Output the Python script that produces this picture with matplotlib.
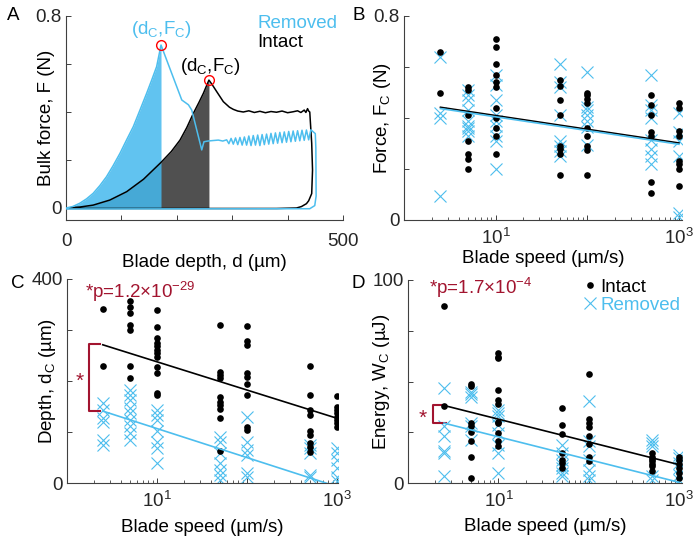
import numpy as np
import matplotlib
matplotlib.use('Agg')
import matplotlib.pyplot as plt
from matplotlib.ticker import LogLocator, NullFormatter

plt.rcParams['font.family'] = ['Liberation Sans', 'DejaVu Sans']
plt.rcParams['mathtext.fontset'] = 'custom'
plt.rcParams['mathtext.rm'] = 'Liberation Sans'
plt.rcParams['mathtext.it'] = 'Liberation Sans:italic'
plt.rcParams['mathtext.default'] = 'regular'
plt.rcParams['font.size'] = 13.5

BLUE = '#4DBEEE'
RED = '#A2142F'
AX = '#404040'

# ---- panel A: force vs depth curves ----
blue_load_d = [0, 12, 25, 37, 49, 61, 73, 85, 97.5, 109, 121.5, 133, 145.6, 155, 163.6, 171.5]
blue_load_F = [0, 0.006, 0.02, 0.038, 0.061, 0.093, 0.13, 0.176, 0.228, 0.282, 0.339, 0.405,
               0.478, 0.535, 0.589, 0.679]
blue_rest_d = [171.5, 209, 221, 227, 242, 245, 249, 256, 265, 275, 283, 290,
               294, 298, 302, 306, 310, 314, 318, 322, 326, 330, 334, 338, 342, 346,
               350, 354, 358, 362, 366, 370, 374, 378, 382, 386, 390, 394, 398, 402,
               406, 410, 414, 418, 422, 426, 430, 434, 438, 442, 446,
               450, 451, 451.5, 449, 440, 0]
blue_rest_F = [0.679, 0.45, 0.43, 0.408, 0.27, 0.242, 0.276, 0.279, 0.281, 0.283, 0.279, 0.284,
               0.268, 0.290, 0.266, 0.292, 0.264, 0.294, 0.262, 0.296, 0.262, 0.300, 0.260, 0.302,
               0.262, 0.304, 0.260, 0.306, 0.264, 0.308, 0.266, 0.311, 0.268, 0.313, 0.270, 0.315,
               0.272, 0.317, 0.274, 0.319, 0.276, 0.321, 0.278, 0.322, 0.280, 0.324, 0.282, 0.325,
               0.284, 0.326, 0.318,
               0.31, 0.25, 0.05, 0.01, -0.003, -0.004]

black_load_d = [0, 25, 49, 79, 109.5, 140, 171.5, 190, 205.8, 218, 229.8, 240, 248, 258]
black_load_F = [0, 0.004, 0.012, 0.033, 0.068, 0.12, 0.19, 0.235, 0.283, 0.335, 0.394, 0.44,
                0.478, 0.533]
black_rest_d = [258, 265, 272, 284, 295, 302, 310, 320, 330, 340, 350, 360, 370, 380, 390, 400,
                410, 418, 424, 430, 433, 436, 438, 440, 443.5, 445, 443.5, 438, 434, 425, 416,
                380, 0]
black_rest_F = [0.533, 0.51, 0.485, 0.443, 0.42, 0.411, 0.404, 0.400, 0.405, 0.398, 0.403, 0.397,
                0.402, 0.399, 0.404, 0.397, 0.401, 0.405, 0.398, 0.408, 0.398, 0.414, 0.404, 0.40,
                0.27, 0.158, 0.06, 0.03, 0.018, 0.006, 0.0, -0.002, -0.002]

peak_d = [171.5, 258]
peak_F = [0.679, 0.533]

# ---- panels B-D: values per blade speed ----
speeds = [2.5, 5, 10, 50, 100, 500, 1000]

force_intact = [[0.66, 0.50],
                [0.52, 0.51, 0.41, 0.31, 0.26, 0.24, 0.20],
                [0.71, 0.68, 0.61, 0.57, 0.54, 0.52, 0.44, 0.40, 0.36, 0.33, 0.26],
                [0.55, 0.525, 0.47, 0.41, 0.29, 0.28, 0.26, 0.176],
                [0.50, 0.49, 0.475, 0.46, 0.36, 0.33, 0.29, 0.275, 0.176],
                [0.49, 0.45, 0.41, 0.345, 0.33, 0.15, 0.105],
                [0.46, 0.44, 0.35, 0.33, 0.23, 0.22, 0.20, 0.135]]
force_removed = [[0.64, 0.42, 0.40, 0.095],
                 [0.51, 0.49, 0.47, 0.43, 0.39, 0.37, 0.36, 0.35, 0.33],
                 [0.57, 0.53, 0.47, 0.41, 0.39, 0.37, 0.33, 0.31, 0.20],
                 [0.61, 0.54, 0.52, 0.41, 0.31, 0.29, 0.27, 0.25],
                 [0.58, 0.445, 0.43, 0.41, 0.39, 0.365, 0.295],
                 [0.57, 0.45, 0.43, 0.40, 0.315, 0.28, 0.25, 0.22],
                 [0.42, 0.345, 0.31, 0.25, 0.026, 0.013]]

depth_intact = [[342, 229],
                [356, 346, 333, 310, 300, 229, 205],
                [340, 305, 284, 275, 268, 260, 254, 248, 228, 216, 177, 173],
                [310, 218, 212, 205, 169, 159, 153, 146, 127, 63],
                [308, 279, 271, 215, 208, 195, 173, 110, 104],
                [229, 173, 144, 133, 101, 94, 78, 71, 61],
                [171, 150, 143, 137, 130, 124, 117, 110]]
depth_removed = [[156, 143, 127, 120, 84, 75],
                 [182, 172, 163, 147, 137, 124, 111, 98, 84],
                 [143, 133, 124, 101, 81, 68, 39],
                 [91, 81, 58, 39, 26, 16, 6],
                 [130, 81, 65, 55, 19, 12],
                 [75, 68, 58, 16, 12],
                 [68, 58, 45, 29, 12, 3]]

energy_intact = [[87, 38],
                 [49, 48, 29.5, 28, 25, 20.5, 13, 2.5],
                 [64, 62, 61.5, 46, 41, 39, 30, 29.5, 24.6, 20.5, 18.4],
                 [37, 28.7, 24, 14.8, 11.5, 9.8, 7.4],
                 [53.8, 31.5, 29.5, 27.5, 23, 19, 13, 10.7],
                 [14.8, 13, 11.8, 10.7, 9.5, 8.2, 5.7],
                 [13, 11.5, 9.5, 7.4, 4.9, 2.5]]
energy_removed = [[47, 28, 23, 15.6, 14.8, 3.3],
                  [45, 44, 42.6, 29.5, 28, 21],
                  [36, 34.4, 32.8, 28.7, 24.6, 18.9, 14.8, 4.9],
                  [18.9, 14.8, 11.5, 9, 7.4, 4.9, 3.3],
                  [40.6, 20.5, 18, 11.5, 6.6, 3.3, 1.6],
                  [21, 19.7, 18, 3.3, 1.6],
                  [14, 12.3, 9.8, 7.4, 4.1, 1.6]]

# fitted lines, value at 2.5 and 1000 um/s
fit_speed = [2.5, 1000]
force_fit_intact = [0.442, 0.302]
force_fit_removed = [0.437, 0.297]
depth_fit_intact = [271, 127]
depth_fit_removed = [141, -7]
energy_fit_intact = [38.2, 9.0]
energy_fit_removed = [29.5, 0.3]


def style(ax, xpad):
    for s in ['top', 'right']:
        ax.spines[s].set_visible(False)
    for s in ['left', 'bottom']:
        ax.spines[s].set_color(AX)
        ax.spines[s].set_linewidth(0.8)
    ax.tick_params(which='both', direction='in', color=AX, labelcolor='#262626')
    ax.tick_params(which='major', length=3.5, width=0.7)
    ax.tick_params(which='minor', length=2, width=0.6)
    ax.tick_params(axis='x', pad=xpad)
    ax.tick_params(axis='y', pad=3)


def speed_panel(ax, intact, removed, fit_i, fit_r, top, xmax):
    for v, vals in zip(speeds, intact):
        ax.plot([v] * len(vals), vals, 'o', color='k', ms=4.8, mew=0, zorder=3)
    for v, vals in zip(speeds, removed):
        ax.plot([v] * len(vals), vals, 'x', color=BLUE, ms=8, mew=0.8, zorder=2)
    ax.plot(fit_speed, fit_i, color='k', lw=1.2, zorder=4)
    ax.plot(fit_speed, fit_r, color=BLUE, lw=1.2, zorder=4)
    ax.set_xscale('log')
    ax.set_xlim(1, xmax)
    ax.set_ylim(0, top)
    ax.set_xticks([1, 10, 100, 1000], ['', '$10^{1}$', '', '$10^{3}$'])
    ax.xaxis.set_minor_locator(LogLocator(base=10, subs=np.arange(2, 10)))
    ax.xaxis.set_minor_formatter(NullFormatter())
    ax.set_yticks(np.linspace(0, top, 5), ['0', '', '', '', f'{top:g}'])
    ax.set_xlabel('Blade speed (µm/s)')
    style(ax, 6)


fig = plt.figure(figsize=(6.94, 5.40), dpi=100)
W, H = 694, 540


def px_axes(x0, y0, x1, y1):
    return fig.add_axes([x0 / W, 1 - y1 / H, (x1 - x0) / W, (y1 - y0) / H])


axA = px_axes(66, 16, 343, 220)
axB = px_axes(404, 16, 682, 220)
axC = px_axes(67, 279, 338, 483)
axD = px_axes(408, 280, 682, 483)

# panel A
axA.fill_between(black_load_d, 0, black_load_F, color='#505050', lw=0, zorder=1)
axA.fill_between(blue_load_d, 0, blue_load_F, color='#45B9EE', alpha=0.85, lw=0, zorder=2)
axA.plot(black_load_d + black_rest_d, black_load_F + black_rest_F, color='k', lw=1.1, zorder=3)
axA.plot(blue_load_d + blue_rest_d, blue_load_F + blue_rest_F, color=BLUE, lw=1.1, zorder=3)
axA.plot(peak_d, peak_F, 'o', mfc='none', mec='red', ms=7, mew=1, zorder=5)
axA.text(171.5, 0.745, '(d$_\\mathregular{C}$,F$_\\mathregular{C}$)', color=BLUE, ha='center', va='center')
axA.text(260, 0.59, '(d$_\\mathregular{C}$,F$_\\mathregular{C}$)', color='k', ha='center', va='center')
axA.text(346, 0.77, 'Removed', color=BLUE, ha='left', va='center')
axA.text(346, 0.69, 'Intact', color='k', ha='left', va='center')
axA.set_xlim(0, 500)
axA.set_ylim(-0.05, 0.8)
axA.set_xticks(np.arange(0, 501, 100), ['0', '', '', '', '', '500'])
axA.set_yticks(np.arange(0, 0.81, 0.2), ['0', '', '', '', '0.8'])
axA.set_xlabel('Blade depth, d (µm)')
axA.set_ylabel('Bulk force, F (N)')
style(axA, 9)

# panel B
speed_panel(axB, force_intact, force_removed, force_fit_intact, force_fit_removed, 0.8, 1080)
axB.set_ylabel('Force, F$_\\mathregular{C}$ (N)')

# panel C
speed_panel(axC, depth_intact, depth_removed, depth_fit_intact, depth_fit_removed, 400, 1030)
axC.set_ylabel('Depth, d$_\\mathregular{C}$ (µm)')
axC.plot([2.3, 1.75, 1.75, 2.3], [272, 272, 142, 142], color=RED, lw=1.5, clip_on=False)
axC.text(1.39, 200, '*', color=RED, ha='center', va='center', fontsize=15)
axC.text(1.6, 375, '*p=1.2×10$^{−29}$', color=RED, ha='left', va='center')

# panel D
speed_panel(axD, energy_intact, energy_removed, energy_fit_intact, energy_fit_removed, 100, 1070)
axD.set_ylabel('Energy, W$_\\mathregular{C}$ (µJ)')
axD.plot([2.6, 1.9, 1.9, 2.6], [38.2, 38.2, 29.5, 29.5], color=RED, lw=1.5, clip_on=False)
axD.text(1.47, 32, '*', color=RED, ha='center', va='center', fontsize=15)
axD.text(1.7, 96, '*p=1.7×10$^{−4}$', color=RED, ha='left', va='center')
hi = axD.plot([], [], 'o', color='k', ms=4.8, mew=0)[0]
hr = axD.plot([], [], 'x', color=BLUE, ms=8, mew=0.8)[0]
axD.legend([hi, hr], ['Intact', 'Removed'], loc='upper right', frameon=False,
           handlelength=0.7, handletextpad=0.2, labelspacing=0.05, borderaxespad=0.0,
           borderpad=0.1, labelcolor=['k', BLUE], bbox_to_anchor=(1.0, 1.015))

for ax, x in [(axA, -0.039), (axB, -0.041), (axC, -0.033), (axD, -0.058)]:
    ax.yaxis.set_label_coords(x, 0.5)
for ax, y in [(axA, -0.165), (axB, -0.145), (axC, -0.176), (axD, -0.173)]:
    ax.xaxis.set_label_coords(0.5, y)

for lab, x, y in [('A', 13, 16), ('B', 359, 16), ('C', 18, 283), ('D', 358, 283)]:
    fig.text(x / W, 1 - y / H, lab, ha='center', va='center', fontsize=13.5)

fig.savefig('out.png', dpi=100)
